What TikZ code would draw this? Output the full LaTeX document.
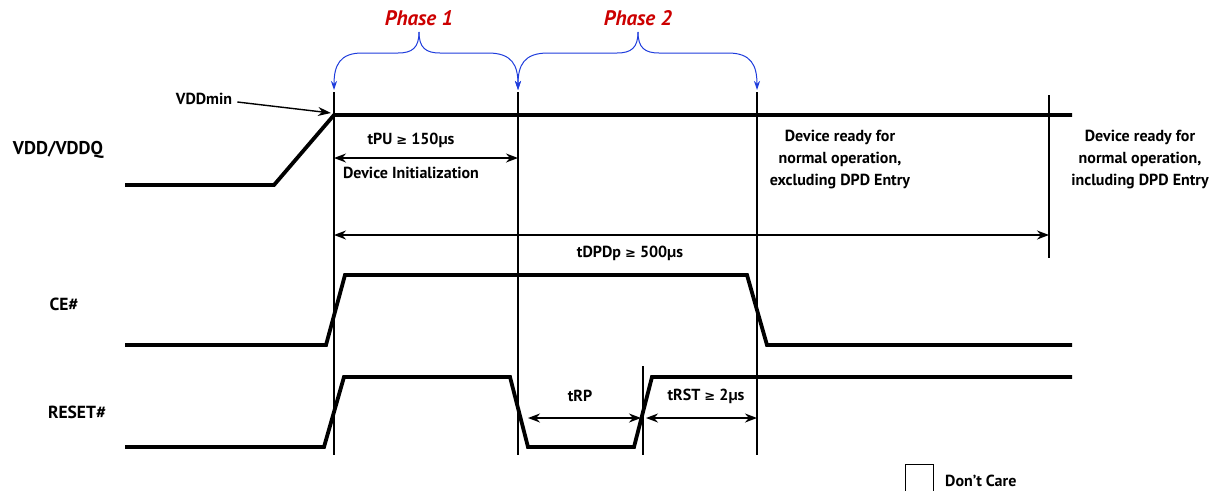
\documentclass[tikz,border=0pt]{standalone}
\usepackage{fontspec}
\setmainfont{PT Sans}
\newfontfamily\symf{DejaVu Sans}
\usetikzlibrary{arrows.meta}
\definecolor{phred}{RGB}{204,0,0}
\definecolor{brblue}{RGB}{30,60,220}
\newcommand{\GE}{{\symf\bfseries\fontsize{13}{13}\selectfont ≥}}
\tikzset{
  sig/.style={line width=3.8pt, line join=miter},
  guide/.style={line width=1.1pt},
  dim/.style={line width=1.5pt, {Stealth[length=12pt,width=9pt]}-{Stealth[length=12pt,width=9pt]}},
  brace/.style={brblue, line width=1pt, -{Stealth[length=9pt,width=6pt]}},
  lbl/.style={font=\bfseries\fontsize{18.5}{22}\selectfont, inner sep=0pt},
  txt/.style={font=\bfseries\fontsize{16}{22}\selectfont, inner sep=0pt, align=center},
  phase/.style={font=\bfseries\itshape\fontsize{21}{24}\selectfont, text=phred, inner sep=0pt}
}
\begin{document}
\begin{tikzpicture}[x=1pt,y=-1pt]
\useasboundingbox (0,0) rectangle (1220,490);
% guide coordinates
\coordinate (g1t) at (334,92);  \coordinate (g1b) at (334,455);
\coordinate (g2t) at (518,92);  \coordinate (g2b) at (518,455);
\coordinate (g3t) at (757,92);  \coordinate (g3b) at (757,455);
\coordinate (g4t) at (1049,95); \coordinate (g4b) at (1049,258);
\coordinate (g5t) at (643,366); \coordinate (g5b) at (643,455);
\draw[guide] (g1t) -- (g1b);
\draw[guide] (g2t) -- (g2b);
\draw[guide] (g3t) -- (g3b);
\draw[guide] (g4t) -- (g4b);
\draw[guide] (g5t) -- (g5b);
% signals
\draw[sig] (125,185) -- (274,185) -- (334,115) -- (1072,115);
\draw[sig] (125,345) -- (326,345) -- (345,275) -- (747,275) -- (767,345) -- (1072,345);
\draw[sig] (125,447) -- (324,447) -- (344,377) -- (510,377) -- (528,447) -- (634,447) -- (652,377) -- (1072,377);
% labels
\node[lbl] (vdd) at (58,150) {VDD/VDDQ};
\node[lbl, font=\bfseries\fontsize{17.5}{20}\selectfont] (ce) at (64,304) {CE\#};
\node[lbl, font=\bfseries\fontsize{17.5}{20}\selectfont] (rst) at (77,412) {RESET\#};
\node[txt] (vddmin) at (204,99) {VDDmin};
\coordinate (vmtip) at (331,113);
\draw[line width=1.4pt, -{Stealth[length=13pt,width=9pt]}] (vddmin.east) ++(5,3) coordinate (vmfrom) -- (vmtip);
% tPU
\node[txt] (tpu) at (411,140) {tPU \GE\ 150µs};
\coordinate (tpuL) at (334,158); \coordinate (tpuR) at (518,158);
\draw[dim] (tpuL) -- (tpuR);
\node[txt] (devinit) at (411,173) {Device Initialization};
% tDPDp
\coordinate (dpL) at (334,235); \coordinate (dpR) at (1049,235);
\draw[dim] (dpL) -- (dpR);
\node[txt] (tdpd) at (630,253) {tDPDp \GE\ 500µs};
% ready texts
\node[txt] (rdy1) at (840,160) {Device ready for\\normal operation,\\excluding DPD Entry};
\node[txt] (rdy2) at (1140,160) {Device ready for\\normal operation,\\including DPD Entry};
% tRP / tRST
\coordinate (rpL) at (528,418); \coordinate (rpR) at (641,418);
\draw[dim] (rpL) -- (rpR);
\node[txt] (trp) at (580,396) {tRP};
\coordinate (rsL) at (646,418); \coordinate (rsR) at (757,418);
\draw[dim] (rsL) -- (rsR);
\node[txt] (trst) at (706,396) {tRST \GE\ 2µs};
% phases
\node[phase] (ph1) at (419,18) {Phase 1};
\node[phase] (ph2) at (638,18) {Phase 2};
\coordinate (b1c) at (419,32);
\coordinate (b2c) at (638,32);
\draw[brace] (b1c) .. controls (419,48) and (412,53) .. (398,53) -- (362,53) .. controls (340,53) and (334,65) .. (334,90);
\draw[brace] (b1c) .. controls (419,48) and (426,53) .. (440,53) -- (488,53) .. controls (512,53) and (518,65) .. (518,90);
\draw[brace] (b2c) .. controls (638,48) and (631,53) .. (617,53) -- (548,53) .. controls (524,53) and (518,65) .. (518,90);
\draw[brace] (b2c) .. controls (638,48) and (645,53) .. (659,53) -- (728,53) .. controls (751,53) and (757,65) .. (757,90);
% don't care
\node[draw, line width=0.8pt, minimum width=28pt, minimum height=30pt, inner sep=0pt, anchor=north west] (dcbox) at (905,464) {};
\node[txt, anchor=west] (dctext) at (945,481) {Don’t Care};
\end{tikzpicture}
\end{document}
